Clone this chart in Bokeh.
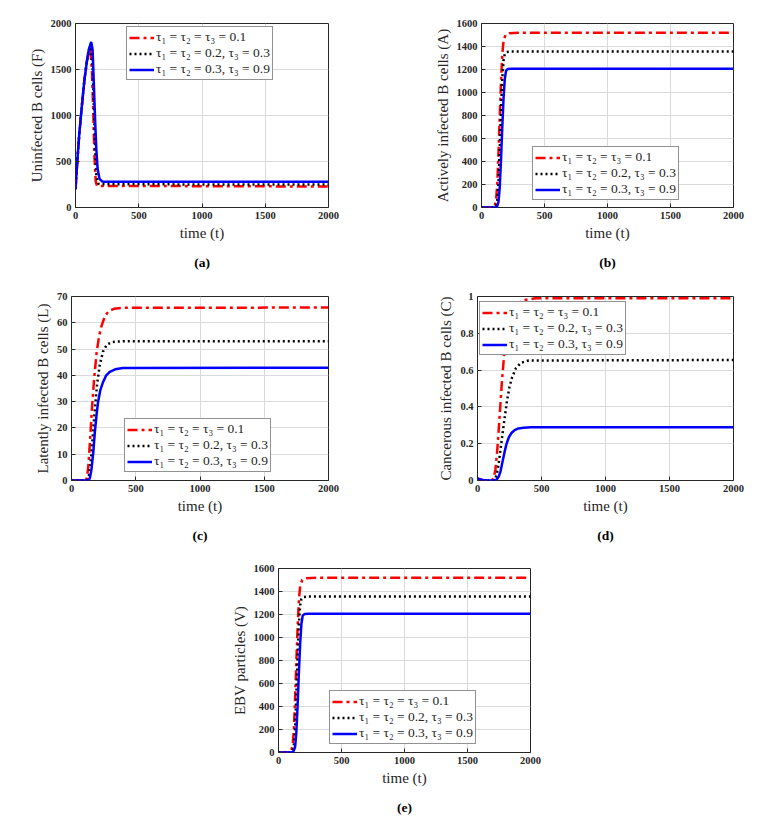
from bokeh.plotting import figure
from bokeh.models import Range1d, FixedTicker, Legend, LegendItem, Title, Spacer
from bokeh.layouts import row, column
from bokeh.embed import file_html
from bokeh.resources import INLINE

# legend labels shared by all panels
labels = ["τ₁ = τ₂ = τ₃ = 0.1", "τ₁ = τ₂ = 0.2, τ₃ = 0.3", "τ₁ = τ₂ = 0.3, τ₃ = 0.9"]
x_ticks = [0, 500, 1000, 1500, 2000]

# (a) uninfected B cells F
f_t_red = [0, 15, 30, 50, 70, 90, 105, 115, 130, 140, 150, 160, 170, 2000]
f_red = [200, 520, 800, 1100, 1380, 1590, 1700, 1750, 1500, 1050, 550, 280, 235, 228]
f_t_black = [0, 15, 30, 50, 70, 90, 105, 120, 135, 145, 155, 165, 180, 200, 2000]
f_black = [200, 520, 800, 1100, 1380, 1590, 1710, 1775, 1500, 1100, 650, 340, 260, 252, 250]
f_t_blue = [0, 15, 30, 50, 70, 90, 105, 124, 135, 145, 155, 165, 175, 190, 210, 230, 2000]
f_blue = [200, 520, 800, 1100, 1380, 1590, 1715, 1800, 1720, 1350, 950, 620, 420, 310, 283, 280, 280]

# (b) actively infected B cells A
a_t_red = [0, 90, 105, 115, 125, 135, 145, 155, 165, 175, 190, 220, 300, 2000]
a_red = [0, 2, 15, 60, 200, 480, 800, 1100, 1330, 1450, 1500, 1515, 1520, 1520]
a_t_black = [0, 100, 115, 125, 135, 145, 155, 165, 175, 185, 200, 230, 2000]
a_black = [0, 2, 15, 60, 220, 520, 850, 1120, 1280, 1335, 1352, 1357, 1357]
a_t_blue = [0, 110, 125, 135, 145, 155, 165, 175, 185, 195, 210, 240, 2000]
a_blue = [0, 2, 12, 50, 180, 420, 700, 950, 1120, 1190, 1205, 1207, 1207]

# (c) latently infected B cells L
l_t_red = [0, 110, 120, 130, 140, 150, 160, 175, 195, 215, 235, 260, 290, 330, 400, 2000]
l_red = [0, 0.1, 1, 5, 12, 20, 28, 38, 48.5, 55, 59, 62.5, 64.5, 65.3, 65.7, 65.8]
l_t_black = [0, 120, 135, 145, 155, 170, 185, 200, 220, 245, 275, 320, 400, 2000]
l_black = [0, 0.1, 1.5, 5, 10, 20, 29, 37, 44, 49, 51.7, 52.7, 53, 53]
l_t_blue = [0, 130, 142, 155, 170, 181, 195, 207, 225, 246, 270, 298, 340, 400, 2000]
l_blue = [0, 0.1, 0.8, 4, 11, 18, 25, 30, 34.5, 37.5, 40, 41.3, 42.3, 42.8, 42.9]

# (d) cancerous infected B cells C
c_t_red = [0, 40, 80, 110, 125, 140, 155, 170, 190, 210, 240, 270, 310, 360, 450, 2000]
c_red = [0.01, 0.003, 0, 0, 0.01, 0.06, 0.17, 0.32, 0.53, 0.70, 0.84, 0.92, 0.96, 0.98, 0.99, 0.99]
c_t_black = [0, 40, 80, 120, 135, 150, 165, 180, 195, 210, 230, 250, 270, 300, 340, 400, 2000]
c_black = [0.01, 0.003, 0, 0, 0.005, 0.03, 0.09, 0.17, 0.25, 0.33, 0.43, 0.51, 0.56, 0.61, 0.64, 0.652, 0.655]
c_t_blue = [0, 40, 80, 130, 150, 165, 180, 195, 210, 225, 245, 265, 290, 320, 360, 420, 2000]
c_blue = [0.01, 0.003, 0, 0, 0.005, 0.02, 0.05, 0.1, 0.15, 0.195, 0.235, 0.258, 0.274, 0.283, 0.287, 0.289, 0.289]

# (e) EBV particles V
v_t_red = [0, 85, 100, 112, 122, 132, 142, 152, 162, 172, 188, 220, 300, 2000]
v_red = [0, 2, 15, 60, 200, 480, 800, 1100, 1330, 1450, 1500, 1515, 1520, 1520]
v_t_black = [0, 95, 110, 122, 132, 142, 152, 162, 172, 182, 198, 230, 2000]
v_black = [0, 2, 15, 60, 220, 520, 850, 1120, 1280, 1335, 1352, 1357, 1357]
v_t_blue = [0, 105, 120, 132, 142, 152, 162, 172, 182, 192, 208, 240, 2000]
v_blue = [0, 2, 12, 50, 180, 420, 700, 950, 1120, 1190, 1205, 1207, 1207]

SERIF = "Liberation Serif"
INK = "#262626"


def panel(ylabel, ymax, yticks, series, legend_xy, tag, left, frame_w, right, top, bottom):
    p = figure(frame_width=frame_w, frame_height=184,
               min_border_left=left, min_border_right=right,
               min_border_top=top, min_border_bottom=bottom,
               x_range=Range1d(0, 2000), y_range=Range1d(0, ymax),
               output_backend="svg", toolbar_location=None)
    p.outline_line_color = INK
    p.outline_line_alpha = 1
    p.background_fill_color = "white"
    p.border_fill_color = "white"

    p.xaxis.ticker = FixedTicker(ticks=x_ticks)
    p.yaxis.ticker = FixedTicker(ticks=yticks)
    p.yaxis.major_label_overrides = {t: ("%g" % t) for t in yticks}
    p.xaxis.axis_label = "time (t)"
    p.yaxis.axis_label = ylabel
    for ax in (p.xaxis[0], p.yaxis[0]):
        ax.axis_line_color = None
        ax.major_tick_in = 4
        ax.major_tick_out = 0
        ax.minor_tick_line_color = None
        ax.major_tick_line_color = INK
        ax.major_label_text_font = SERIF
        ax.major_label_text_font_style = "bold"
        ax.major_label_text_font_size = "10.5px"
        ax.major_label_text_color = INK
        ax.major_label_standoff = 4
        ax.axis_label_text_font = SERIF
        ax.axis_label_text_font_style = "normal"
        ax.axis_label_text_font_size = "15px"
        ax.axis_label_text_color = INK
        ax.axis_label_standoff = 3
    p.grid.grid_line_color = "#dadada"

    items = []
    styles = [("#ff0000", "10 4 3 4"), ("black", "2 3"), ("#0000ff", "solid")]
    for (t, y), lab, (col, dash) in zip(series, labels, styles):
        r = p.line(t, y, line_color=col, line_width=2.5, line_dash=dash)
        items.append(LegendItem(label=lab, renderers=[r]))
    leg = Legend(items=items, location=legend_xy)
    leg.label_text_font = SERIF
    leg.label_text_font_size = "13.5px"
    leg.label_text_color = INK
    leg.label_height = 13
    leg.glyph_height = 13
    leg.glyph_width = 25
    leg.label_standoff = 2
    leg.spacing = 0
    leg.padding = 2
    leg.margin = 0
    leg.border_line_color = INK
    leg.border_line_width = 1
    leg.background_fill_alpha = 1
    p.add_layout(leg)

    p.add_layout(Title(text=tag, align="center", text_font=SERIF,
                       text_font_style="bold", text_font_size="13.5px",
                       text_color="black", standoff=18), "below")
    return p


pa = panel("Uninfected B cells (F)", 2000, [0, 500, 1000, 1500, 2000],
           [(f_t_red, f_red), (f_t_black, f_black), (f_t_blue, f_blue)],
           (51, 127), "(a)", 75, 253, 86, 23, 74)
pb = panel("Actively infected B cells (A)", 1600, [0, 200, 400, 600, 800, 1000, 1200, 1400, 1600],
           [(a_t_red, a_red), (a_t_black, a_black), (a_t_blue, a_blue)],
           (51, 7), "(b)", 67, 252, 41, 23, 74)
pc = panel("Latently infected B cells (L)", 70, [0, 10, 20, 30, 40, 50, 60, 70],
           [(l_t_red, l_red), (l_t_black, l_black), (l_t_blue, l_blue)],
           (53, 8), "(c)", 71, 257, 86, 15, 73)
pd_ = panel("Cancerous infected B cells (C)", 1, [0, 0.2, 0.4, 0.6, 0.8, 1],
            [(c_t_red, c_red), (c_t_black, c_black), (c_t_blue, c_blue)],
            (2, 125), "(d)", 63, 256, 41, 15, 73)
pe = panel("EBV particles (V)", 1600, [0, 200, 400, 600, 800, 1000, 1200, 1400, 1600],
           [(v_t_red, v_red), (v_t_black, v_black), (v_t_blue, v_blue)],
           (51, 8), "(e)", 67, 252, 40, 15, 68)

page = column(row(pa, pb), row(pc, pd_), row(Spacer(width=211, height=10), pe))

open("out.html", "w").write(file_html(page, INLINE))
